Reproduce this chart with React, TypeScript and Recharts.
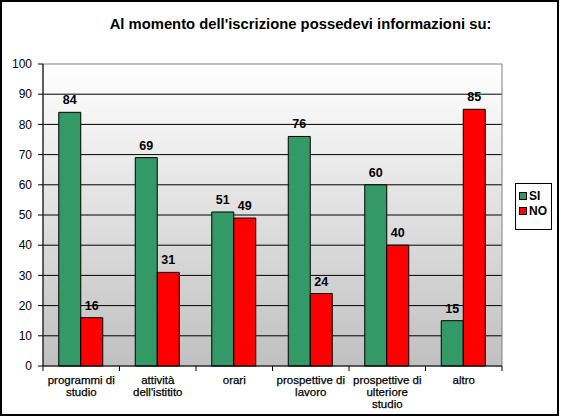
import React from "react";
import {
  Bar,
  BarChart,
  CartesianGrid,
  LabelList,
  ReferenceArea,
  XAxis,
  YAxis,
} from "recharts";

const categories = [
  "programmi di\nstudio",
  "attività\ndell'istitito",
  "orari",
  "prospettive di\nlavoro",
  "prospettive di\nulteriore\nstudio",
  "altro",
];
const siValues = [84, 69, 51, 76, 60, 15];
const noValues = [16, 31, 49, 24, 40, 85];
const yTicks = [0, 10, 20, 30, 40, 50, 60, 70, 80, 90, 100];
const seriesNames = ["SI", "NO"];
const seriesColors = ["#339966", "#ff0000"];

const data = categories.map((name, i) => ({
  name,
  si: siValues[i],
  no: noValues[i],
}));

const FONT = "'Liberation Sans', Arial, sans-serif";

function CategoryTick(props: any) {
  const { x, y, payload, index, visibleTicksCount, width } = props;
  const half =
    payload && payload.offset ? payload.offset : width / visibleTicksCount / 2;
  const lines = String(payload.value).split("\n");
  return (
    <g>
      <line x1={x - half} x2={x - half} y1={y} y2={y + 5} stroke="#000" />
      {index === visibleTicksCount - 1 && (
        <line x1={x + half} x2={x + half} y1={y} y2={y + 5} stroke="#000" />
      )}
      <text
        x={x}
        y={y}
        textAnchor="middle"
        fontFamily={FONT}
        fontSize={11.5}
        fill="#000"
        stroke="#000"
        strokeWidth={0.25}
      >
        {lines.map((l, i) => (
          <tspan key={i} x={x} dy={i === 0 ? 18 : 12}>
            {l}
          </tspan>
        ))}
      </text>
    </g>
  );
}

function LegendBox() {
  return (
    <div
      style={{
        position: "absolute",
        left: 515,
        top: 183,
        boxSizing: "border-box",
        width: 37,
        height: 47,
        border: "1px solid #000",
        background: "#fff",
        paddingTop: 4,
        paddingLeft: 3,
        fontFamily: FONT,
        fontSize: 12,
        fontWeight: "bold",
      }}
    >
      {seriesNames.map((name, i) => (
        <div
          key={name}
          style={{ display: "flex", alignItems: "center", height: 15 }}
        >
          <span
            style={{
              display: "inline-block",
              width: 6,
              height: 6,
              background: seriesColors[i],
              border: "1px solid #000",
              marginRight: 2,
            }}
          />
          {name}
        </div>
      ))}
    </div>
  );
}

export default function App() {
  return (
    <div style={{ position: "absolute", left: 0, top: 0, width: 561, height: 416, background: "#fff" }}>
      <div
        style={{
          position: "absolute",
          left: 0,
          top: 0,
          width: 559,
          height: 416,
          boxSizing: "border-box",
          border: "2px solid #000",
        }}
      />
      <div
        style={{
          position: "absolute",
          left: 0,
          top: 16,
          width: 601,
          textAlign: "center",
          fontFamily: FONT,
          fontSize: 14.8,
          fontWeight: "bold",
          color: "#000",
          whiteSpace: "nowrap",
        }}
      >
        Al momento dell'iscrizione possedevi informazioni su:
      </div>
      <BarChart
        width={561}
        height={416}
        data={data}
        margin={{ top: 64, right: 59, bottom: 0, left: 0 }}
        barCategoryGap="20.6%"
        barGap={0}
        style={{ position: "absolute", left: 0, top: 0 }}
      >
        <defs>
          <linearGradient id="plotBg" x1="0" y1="0" x2="0" y2="1">
            <stop offset="0%" stopColor="#ffffff" />
            <stop offset="100%" stopColor="#c0c0c0" />
          </linearGradient>
        </defs>
        <CartesianGrid
          fill="url(#plotBg)"
          fillOpacity={1}
          stroke="#000"
          vertical={false}
          horizontalValues={yTicks.filter((v) => v > 0 && v < 100)}
        />
        <ReferenceArea y1={0} y2={100} fill="none" stroke="#808080" strokeWidth={1} />
        <XAxis
          dataKey="name"
          axisLine={{ stroke: "#000" }}
          tickLine={false}
          tickSize={0}
          tickMargin={0}
          height={50}
          interval={0}
          tick={<CategoryTick />}
        />
        <YAxis
          domain={[0, 100]}
          ticks={yTicks}
          width={43}
          axisLine={{ stroke: "#000" }}
          tickLine={{ stroke: "#000" }}
          tickSize={5}
          tickMargin={6}
          tick={{ fill: "#000", fontSize: 12, fontFamily: FONT }}
        />
        <Bar dataKey="si" name={seriesNames[0]} fill={seriesColors[0]} stroke="#000" strokeWidth={1} isAnimationActive={false}>
          <LabelList
            dataKey="si"
            position="top"
            offset={8}
            fill="#000"
            fontSize={12.5}
            fontWeight="bold"
            fontFamily={FONT}
          />
        </Bar>
        <Bar dataKey="no" name={seriesNames[1]} fill={seriesColors[1]} stroke="#000" strokeWidth={1} isAnimationActive={false}>
          <LabelList
            dataKey="no"
            position="top"
            offset={8}
            fill="#000"
            fontSize={12.5}
            fontWeight="bold"
            fontFamily={FONT}
          />
        </Bar>
      </BarChart>
      <LegendBox />
    </div>
  );
}
